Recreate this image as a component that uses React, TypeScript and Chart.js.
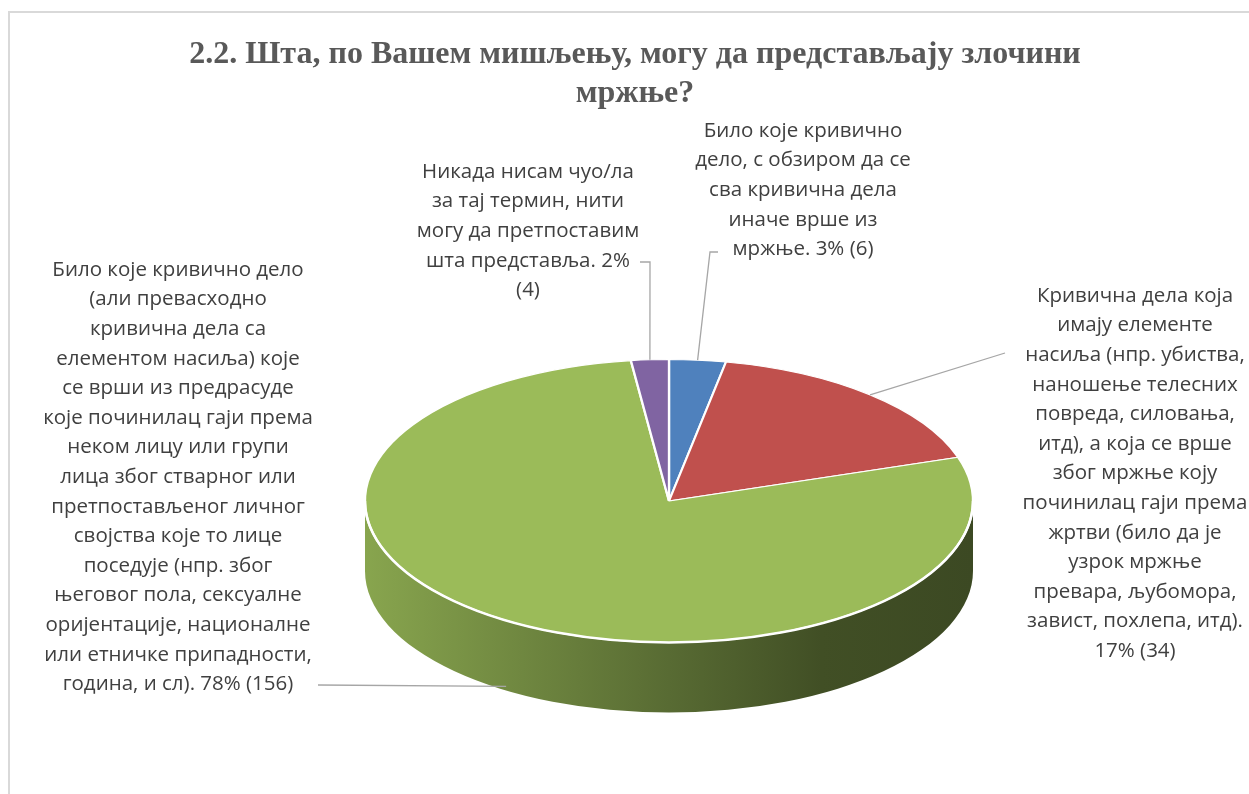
import React, { useEffect, useRef } from 'react';
import { Chart, registerables } from 'chart.js';

Chart.register(...registerables);

const titleLines = ['2.2. Шта, по Вашем мишљењу, могу да представљају злочини', 'мржње?'];

const categories = [
  'Било које кривично дело, с обзиром да се сва кривична дела иначе врше из мржње.',
  'Кривична дела која имају елементе насиља (нпр. убиства, наношење телесних повреда, силовања, итд), а која се врше због мржње коју починилац гаји према жртви (било да је узрок мржње превара, љубомора, завист, похлепа, итд).',
  'Било које кривично дело (али превасходно кривична дела са елементом насиља) које се врши из предрасуде које починилац гаји према неком лицу или групи лица због стварног или претпостављеног личног својства које то лице поседује (нпр. због његовог пола, сексуалне оријентације, националне или етничке припадности, година, и сл).',
  'Никада нисам чуо/ла за тај термин, нити могу да претпоставим шта представља.',
];

const values = [6, 34, 156, 4];

const colors = ['#4f81bd', '#c0504d', '#9bbb59', '#8064a2'];

// ---- layout (not data) ----
const EX = 669;
const EY = 501;
const RX = 304;
const RY = 141.5;
const DEPTH = 70;
const LINE_H = 29.6;
const LABEL_FONT = '20.5px "Open Sans", "Noto Sans", sans-serif';

type LabelLayout = {
  cx: number;
  y: number;
  words: number[];
  path: number[][];
  drop: number;
};

const labelLayout: LabelLayout[] = [
  { cx: 803, y: 131, words: [3, 5, 3, 3, 3], path: [[718, 252], [710, 252]], drop: 0 },
  { cx: 1135, y: 296, words: [3, 2, 3, 2, 2, 5, 3, 3, 4, 2, 2, 3, 2], path: [[1005, 353]], drop: 0 },
  { cx: 178, y: 270, words: [4, 2, 3, 3, 4, 4, 4, 4, 2, 4, 3, 3, 2, 3, 5], path: [[318, 685]], drop: 1 },
  { cx: 528, y: 172, words: [3, 4, 3, 3, 1], path: [[640, 262], [650, 262]], drop: 0 },
];

function shade(hex: string, f: number): string {
  const n = parseInt(hex.slice(1), 16);
  const r = Math.round(((n >> 16) & 255) * f);
  const g = Math.round(((n >> 8) & 255) * f);
  const b = Math.round((n & 255) * f);
  return `rgb(${r},${g},${b})`;
}

const pie3d = {
  id: 'pie3d',
  beforeDatasetsDraw(chart: any) {
    const ctx: CanvasRenderingContext2D = chart.ctx;
    const meta = chart.getDatasetMeta(0);
    const arcs = meta.data;
    if (!arcs.length) return;
    const TWO_PI = Math.PI * 2;
    arcs.forEach((arc: any, i: number) => {
      const s = arc.startAngle;
      const e = arc.endAngle;
      for (let k = -2; k <= 2; k++) {
        const lo = Math.max(s, k * TWO_PI);
        const hi = Math.min(e, k * TWO_PI + Math.PI);
        if (hi <= lo) continue;
        const g = ctx.createLinearGradient(EX - RX, 0, EX + RX, 0);
        const c = colors[i % colors.length];
        g.addColorStop(0, shade(c, 0.88));
        g.addColorStop(0.5, shade(c, 0.57));
        g.addColorStop(0.75, shade(c, 0.42));
        g.addColorStop(1, shade(c, 0.39));
        ctx.save();
        ctx.beginPath();
        ctx.ellipse(EX, EY, RX, RY, 0, lo, hi, false);
        ctx.ellipse(EX, EY + DEPTH, RX, RY, 0, hi, lo, true);
        ctx.closePath();
        ctx.fillStyle = g;
        ctx.fill();
        ctx.restore();
      }
    });
    const a0 = arcs[0];
    const r = a0.outerRadius;
    ctx.save();
    ctx.translate(EX, EY);
    ctx.scale(RX / r, RY / r);
    ctx.translate(-a0.x, -a0.y);
  },
  afterDatasetsDraw(chart: any) {
    const ctx: CanvasRenderingContext2D = chart.ctx;
    const meta = chart.getDatasetMeta(0);
    const arcs = meta.data;
    if (!arcs.length) return;
    ctx.restore();

    ctx.save();
    ctx.beginPath();
    ctx.ellipse(EX, EY, RX, RY, 0, 0, Math.PI, false);
    ctx.strokeStyle = '#ffffff';
    ctx.lineWidth = 2.5;
    ctx.stroke();
    ctx.restore();

    const total = values.reduce((a, b) => a + b, 0);

    ctx.save();
    ctx.font = LABEL_FONT;
    ctx.fillStyle = '#404040';
    ctx.textAlign = 'center';
    ctx.textBaseline = 'middle';
    arcs.forEach((arc: any, i: number) => {
      const L = labelLayout[i];
      if (!L) return;
      const mid = (arc.startAngle + arc.endAngle) / 2;
      const px = EX + RX * Math.cos(mid);
      const py = EY + RY * Math.sin(mid) + L.drop * (DEPTH - 4);
      ctx.beginPath();
      ctx.moveTo(L.path[0][0], L.path[0][1]);
      for (let j = 1; j < L.path.length; j++) ctx.lineTo(L.path[j][0], L.path[j][1]);
      ctx.lineTo(px, py);
      ctx.strokeStyle = '#a6a6a6';
      ctx.lineWidth = 1.3;
      ctx.stroke();

      const pct = Math.round((values[i] / total) * 100);
      const text = `${categories[i]} ${pct}% (${values[i]})`;
      const words = text.split(' ');
      let idx = 0;
      L.words.forEach((n, li) => {
        const line = words.slice(idx, idx + n).join(' ');
        idx += n;
        ctx.fillText(line, L.cx, L.y + li * LINE_H);
      });
    });
    ctx.restore();
  },
};

export default function App() {
  const ref = useRef<HTMLCanvasElement | null>(null);

  useEffect(() => {
    if (!ref.current) return;
    const chart = new Chart(ref.current, {
      type: 'pie',
      data: {
        labels: categories,
        datasets: [
          {
            data: values,
            backgroundColor: colors,
            borderColor: '#ffffff',
            borderWidth: 2.5,
            clip: false as any,
          } as any,
        ],
      },
      options: {
        responsive: false,
        animation: false,
        events: [],
        layout: { padding: { left: 21, right: 0, top: 0, bottom: 20 } },
        plugins: {
          legend: { display: false },
          tooltip: { enabled: false },
          title: {
            display: true,
            text: titleLines,
            color: '#595959',
            font: { family: '"Liberation Serif", "Times New Roman", serif', size: 32, weight: 'bold', lineHeight: 1.2 },
            padding: { top: 36, bottom: 10 },
          },
        },
      },
      plugins: [pie3d],
    });
    return () => chart.destroy();
  }, []);

  return (
    <div style={{ position: 'fixed', left: 0, top: 0, width: 1249, height: 794, overflow: 'hidden', background: '#ffffff' }}>
      <div
        style={{
          position: 'absolute',
          left: 8,
          top: 11,
          width: 1300,
          height: 900,
          borderTop: '2px solid #d9d9d9',
          borderLeft: '2px solid #d9d9d9',
          boxSizing: 'border-box',
        }}
      />
      <canvas ref={ref} width={1249} height={794} style={{ position: 'absolute', left: 0, top: 0 }} />
    </div>
  );
}
